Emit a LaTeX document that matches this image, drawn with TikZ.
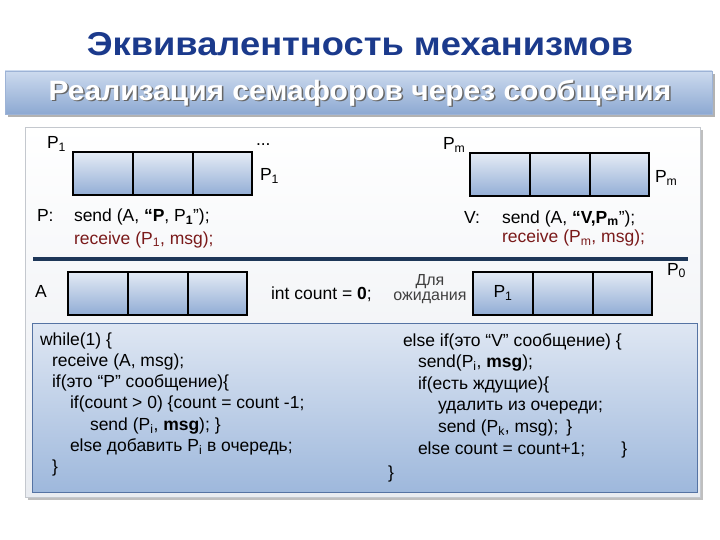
\documentclass[tikz,border=0pt]{standalone}
\usepackage{fontspec}
\setmainfont{Liberation Sans}
\newfontfamily\thinfont{Liberation Sans}
\usetikzlibrary{calc}
\definecolor{titleblue}{HTML}{1B3A8C}
\definecolor{bantop}{HTML}{CCDAEE}
\definecolor{banbot}{HTML}{8DA9D2}
\definecolor{banedge}{HTML}{9DB3D6}
\definecolor{panedge}{HTML}{C4C8CE}
\definecolor{panbot}{HTML}{E9ECF1}
\definecolor{qtop}{HTML}{E4EBF5}
\definecolor{qbot}{HTML}{92ADD5}
\definecolor{codetop}{HTML}{DFE7F3}
\definecolor{codebot}{HTML}{9EB8DC}
\definecolor{codeedge}{HTML}{5573A3}
\definecolor{navy}{HTML}{1E3758}
\definecolor{darkred}{HTML}{7A1A1A}
\definecolor{txtcol}{HTML}{000000}
\definecolor{graytxt}{HTML}{404040}
\newcommand\lsub[1]{\textsubscript{#1}}
\tikzset{
  basefont/.style={font=\fontsize{17.5}{20}\selectfont, inner sep=0pt, outer sep=0pt, text=txtcol},
  lbl/.style={basefont, anchor=base west},
  codeline/.style={basefont, anchor=base west},
  qcell/.style={draw=black, line width=2pt, minimum width=59.7pt, minimum height=43pt,
    inner sep=0pt, top color=qtop, bottom color=qbot},
}
\begin{document}
\begin{tikzpicture}[x=1pt,y=-1pt]
\useasboundingbox (0,0) rectangle (720,540);
\fill[white] (0,0) rectangle (720,540);
% title
\node[font=\bfseries\fontsize{33}{38}\selectfont, text=titleblue, inner sep=0pt, xscale=1.1] (title) at (360,44) {Эквивалентность механизмов};
% banner
\fill[black!30] (8,74) rectangle (715,117);
\shade[top color=bantop, bottom color=banbot, draw=banedge] (5,71) rectangle (712,114);
\node[font=\bfseries\fontsize{28}{32}\selectfont, text=black!60, inner sep=0pt, xscale=1.07] (bannershadow) at (361.5,94.5) {Реализация семафоров через сообщения};
\node[font=\bfseries\fontsize{28}{32}\selectfont, text=white, inner sep=0pt, xscale=1.07] (banner) at (360,93) {Реализация семафоров через сообщения};
% panel
\fill[black!25] (28,130) rectangle (703,500);
\shade[top color=white, bottom color=panbot, draw=panedge] (25,127) rectangle (700,497);
% top-left queue
\node[qcell] (q1a) at (103,174) {};
\node[qcell] (q1b) at (162.7,174) {};
\node[qcell] (q1c) at (222.4,174) {};
\node[lbl] (p1tl) at (47,149) {P\lsub{1}};
\node[lbl] (dots) at (256,146) {...};
\node[lbl] (p1r) at (260,181) {P\lsub{1}};
% top-right queue
\node[qcell] (q2a) at (500,175) {};
\node[qcell] (q2b) at (559.7,175) {};
\node[qcell] (q2c) at (619.4,175) {};
\node[lbl] (pmtl) at (443,150) {P\lsub{m}};
\node[lbl] (pmr) at (655,183) {P\lsub{m}};
% P and V
\node[lbl] (plab) at (37,222) {P:};
\node[lbl] (psend) at (74,222) {send (A, \textbf{“P}, P\textsubscript{\textbf{1}}”);};
\node[lbl, text=darkred] (precv) at (74,244) {receive (P\lsub{1}, msg);};
\node[lbl] (vlab) at (464,223) {V:};
\node[lbl] (vsend) at (502,223) {send (A, \textbf{“V,P\lsub{m}}”);};
\node[lbl, text=darkred] (vrecv) at (502,243) {receive (P\lsub{m}, msg);};
% separator
\draw[navy, line width=4pt] (33,259) -- (688,259);
% A queue
\node[lbl] (alab) at (35,297) {A};
\node[qcell] (qaa) at (98,293) {};
\node[qcell] (qab) at (157.7,293) {};
\node[qcell] (qac) at (217.4,293) {};
\node[lbl] (cnt) at (271,299) {int count = \textbf{0};};
\node[font=\thinfont\fontsize{16}{15}\selectfont, text=graytxt, align=center, inner sep=0pt, anchor=base] (wait) at (430,300) {Для\\ожидания};
% wait queue
\node[qcell, basefont] (qwa) at (503,293) {P\lsub{1}};
\node[qcell] (qwb) at (562.7,293) {};
\node[qcell] (qwc) at (622.4,293) {};
\node[lbl] (p0) at (667,275) {P\lsub{0}};
% code box
\shade[top color=codetop, bottom color=codebot, draw=codeedge, line width=0.8pt] (32,323) rectangle (697,492);
\node[codeline] (l1) at (40,345) {while(1) \{};
\node[codeline] (l2) at (52,366.3) {receive (A, msg);};
\node[codeline] (l3) at (52,387.6) {if(это “P” сообщение)\{};
\node[codeline] (l4) at (70,408.9) {if(count > 0) \{count = count -1;};
\node[codeline] (l5) at (90,430.2) {send (P\lsub{i}, \textbf{msg}); \}};
\node[codeline] (l6) at (70,451.5) {else добавить P\lsub{i} в очередь;};
\node[codeline] (l7) at (52,472.8) {\}};
\node[codeline] (r1) at (403,346) {else if(это “V” сообщение) \{};
\node[codeline] (r2) at (418,367.6) {send(P\lsub{i}, \textbf{msg});};
\node[codeline] (r3) at (418,389.2) {if(есть ждущие)\{};
\node[codeline] (r4) at (438,410.8) {удалить из очереди;};
\node[codeline] (r5) at (438,432.4) {send (P\lsub{k}, msg);\hspace{8pt}{\thinfont\}}};
\node[codeline] (r6) at (418,454) {else count = count+1;\hspace{36pt}{\thinfont\}}};
\node[codeline] (r7) at (388,478) {\}};
\end{tikzpicture}
\end{document}
